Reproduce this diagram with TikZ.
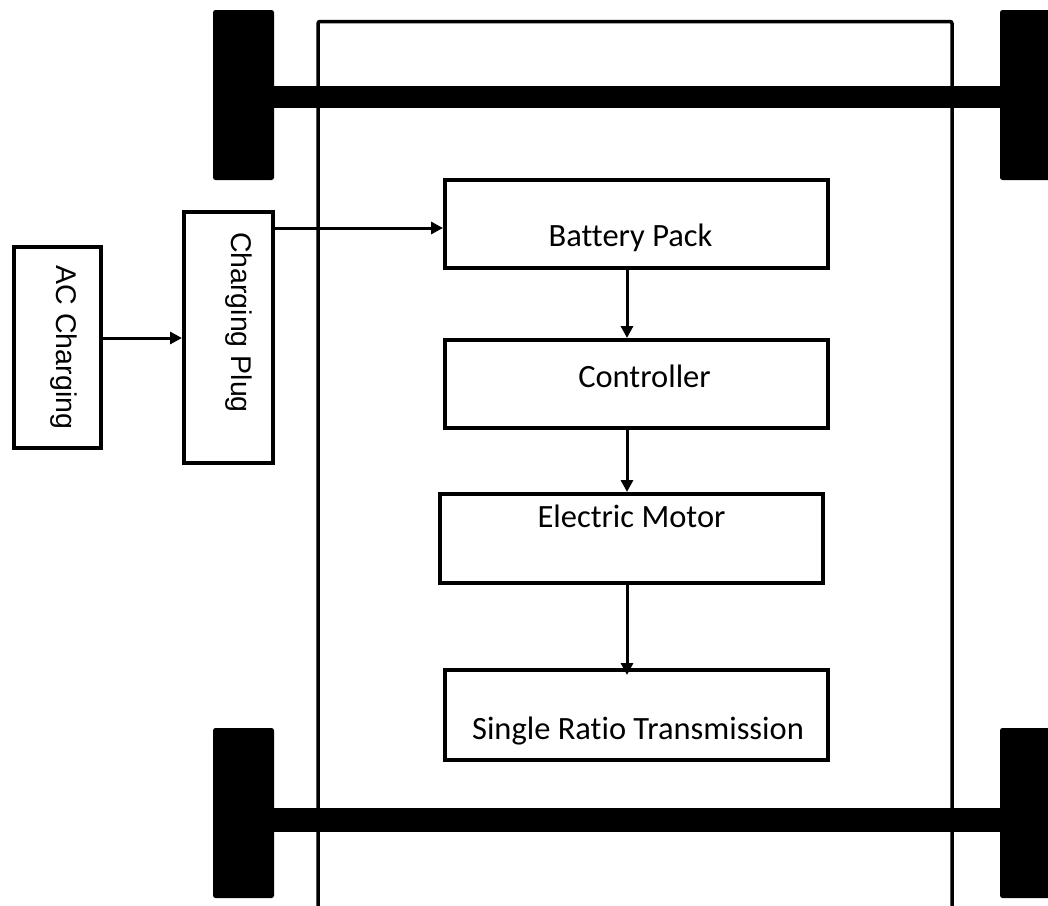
\documentclass[tikz,border=0pt]{standalone}
\usepackage{fontspec}
\setmainfont{Carlito}[Ligatures={NoCommon}]
\newfontfamily\arialfont{Liberation Sans}
\usetikzlibrary{arrows.meta}
\begin{document}
\begin{tikzpicture}[x=1pt,y=-1pt,
  wheel/.style={fill=black, rounded corners=2.5pt},
  axle/.style={fill=black},
  frameline/.style={line width=3.5pt, rounded corners=2pt},
  blk/.style={draw, line width=4pt, rectangle, inner sep=0pt},
  hlab/.style={font=\fontsize{32.5}{39}\selectfont, text height=0.68em, text depth=0.2em, inner sep=0pt},
  vlab/.style={font=\arialfont\fontsize{28.5}{34}\selectfont, text height=0.72em, text depth=0.21em, inner sep=0pt},
  arr/.style={line width=3pt, -{Triangle[length=12pt,width=12pt]}}
]
\useasboundingbox (0,0) rectangle (1048,905);
% chassis frame
\draw[frameline] (318,912) -- (318,21.5) -- (952,21.5) -- (952,912);
% axles
\fill[axle] (270,86) rectangle (1003,108);
\fill[axle] (270,808) rectangle (1003,832);
% wheels
\fill[wheel] (213,10) rectangle (274,180);
\fill[wheel] (1000,10) rectangle (1065,180);
\fill[wheel] (213,728) rectangle (274,898);
\fill[wheel] (1000,728) rectangle (1065,898);
% blocks
\node[blk, minimum width=383pt, minimum height=88pt,
  label={[hlab, xshift=-6pt, yshift=-20pt]center:Battery Pack}] (bat) at (636.5,224) {};
\node[blk, minimum width=383pt, minimum height=88pt,
  label={[hlab, xshift=8pt, yshift=-1pt]center:Controller}] (ctrl) at (636.5,384) {};
\node[blk, minimum width=383pt, minimum height=89pt,
  label={[hlab, xshift=0pt, yshift=13.5pt]center:Electric Motor}] (mot) at (631.5,538.5) {};
\node[blk, minimum width=383pt, minimum height=90pt,
  label={[hlab, xshift=1.5pt, yshift=-22pt]center:Single Ratio Transmission}] (srt) at (636.5,715) {};
\node[blk, minimum width=87pt, minimum height=201pt,
  label={[vlab, xshift=2pt, yshift=0pt, rotate=-90]center:AC Charging}] (ac) at (57.5,347.5) {};
\node[blk, minimum width=89pt, minimum height=251pt,
  label={[vlab, xshift=5.5pt, yshift=15pt, rotate=-90]center:Charging Plug}] (plug) at (228.5,337.5) {};
% connector guides
\coordinate (vx) at (627,0);
\coordinate (y1) at (0,338);
\coordinate (y2) at (0,228);
% connectors
\draw[arr] (ac.east |- y1) -- (plug.west |- y1);
\draw[arr] (plug.east |- y2) -- (bat.west |- y2);
\draw[arr] (bat.south -| vx) -- (ctrl.north -| vx);
\draw[arr] (ctrl.south -| vx) -- (mot.north -| vx);
\draw[arr, shorten >=-7pt] (mot.south -| vx) -- (srt.north -| vx);
\end{tikzpicture}
\end{document}
